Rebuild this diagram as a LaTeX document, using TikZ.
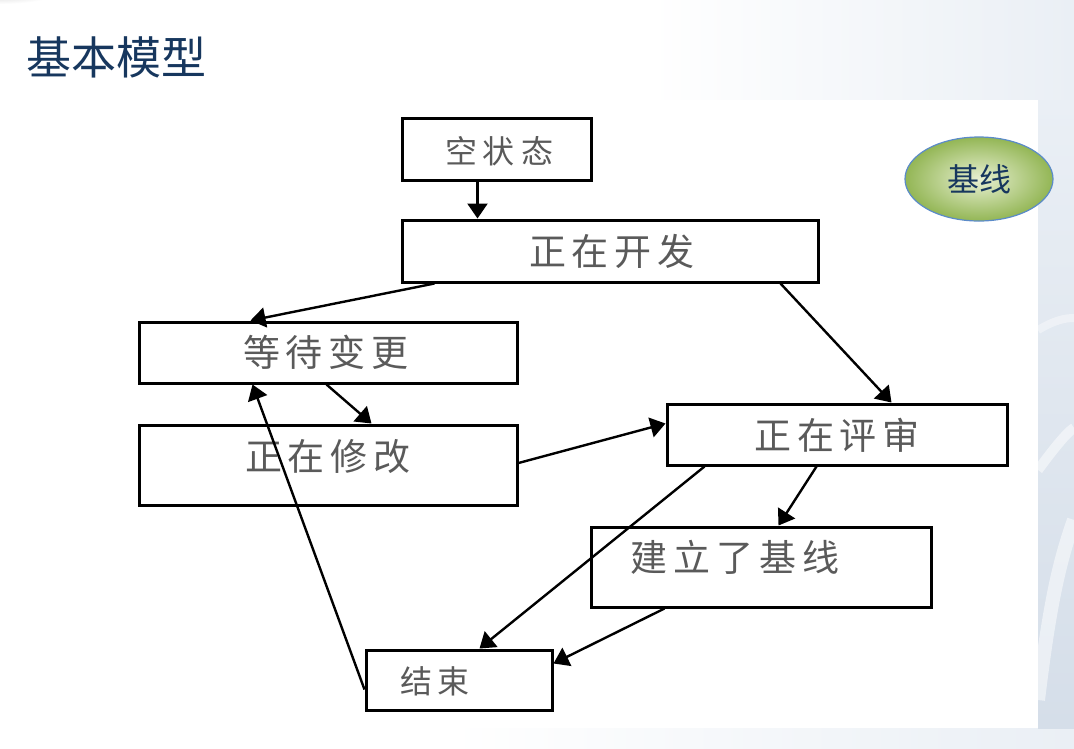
\documentclass[tikz,border=0pt]{standalone}
\usepackage{fontspec}
\newfontfamily\cjk{Noto Sans CJK SC}
\usetikzlibrary{arrows.meta,shapes.geometric,calc}
\definecolor{titleblue}{HTML}{17375E}
\definecolor{boxtext}{HTML}{5A5A5A}
\definecolor{ellborder}{HTML}{5B8BC9}
\definecolor{ellouter}{HTML}{93B655}
\definecolor{ellinner}{HTML}{E8F0D2}
\definecolor{pale}{HTML}{EAEFF5}
\definecolor{pale2}{HTML}{D5DEE9}
\newcommand{\gap}{\hskip 6pt}
\begin{document}
\begin{tikzpicture}[x=1pt,y=-1pt,
  box/.style={draw=black,line width=3pt,fill=white,rectangle,inner sep=0pt},
  lbl/.style={font=\cjk\fontsize{37}{37}\selectfont,text=boxtext,inner sep=0pt},
  lblsmall/.style={font=\cjk\fontsize{32}{32}\selectfont,text=boxtext,inner sep=0pt},
  arr/.style={line width=2.4pt,-{Triangle[length=15pt,width=20pt]}}]
\useasboundingbox (0,0) rectangle (1074,748);
% slide background
\fill[white] (0,0) rectangle (1074,748);
\shade[left color=white,right color=pale] (650,0) rectangle (1074,100);
\shade[left color=white,right color=pale] (450,728) rectangle (1074,748);
\shade[top color=pale,bottom color=pale2] (1038,100) rectangle (1074,728);
\draw[white,line width=10pt,opacity=0.5] (1038,470) .. controls (1060,440) and (1070,430) .. (1074,428);
\draw[white,line width=14pt,opacity=0.5] (1038,700) .. controls (1050,600) and (1060,560) .. (1074,520);
\draw[white,line width=8pt,opacity=0.4] (1038,330) .. controls (1055,320) and (1065,318) .. (1074,318);
\shade[inner color=gray!40,outer color=white] (0,-10) ellipse (60 and 14);
% white image area
\fill[white] (130,100) rectangle (1038,728);
% title
\node[font=\cjk\fontsize{45}{45}\selectfont,text=titleblue,anchor=west,inner sep=0pt] (title) at (26,57) {基本模型};
% baseline ellipse
\node[ellipse,draw=ellborder,line width=1.2pt,inner color=ellinner,outer color=ellouter,
  minimum width=148,minimum height=84,inner sep=0pt,font=\cjk\fontsize{32}{32}\selectfont,text=titleblue] (base) at (979,179) {基线};
% boxes
\node[box,minimum width=189,minimum height=62] (b1) at (496.5,149) {};
\node[box,minimum width=416,minimum height=62] (b2) at (610,251) {};
\node[box,minimum width=378,minimum height=61] (b3) at (328,352.5) {};
\node[box,minimum width=378,minimum height=80] (b4) at (328,465) {};
\node[box,minimum width=340,minimum height=61] (b5) at (837,434.5) {};
\node[box,minimum width=340,minimum height=80] (b6) at (761,567) {};
\node[box,minimum width=186,minimum height=60] (b7) at (459,680) {};
% labels
\node[lblsmall] (t1) at (499,151) {空\gap 状\gap 态};
\node[lbl] (t2) at (612,251) {正\gap 在\gap 开\gap 发};
\node[lbl] (t3) at (326,352) {等\gap 待\gap 变\gap 更};
\node[lbl] (t4) at (328,456) {正\gap 在\gap 修\gap 改};
\node[lbl] (t5) at (837,435) {正\gap 在\gap 评\gap 审};
\node[lbl] (t6) at (735,557) {建\gap 立\gap 了\gap 基\gap 线};
\node[lblsmall] (t7) at (435,681) {结\gap 束};
% connectors
\draw[arr] ([xshift=77pt]b1.south west) -- ([xshift=77pt]b2.north west);
\draw[arr] ([xshift=34pt]b2.south west) -- ([xshift=113pt]b3.north west);
\draw[arr] ([xshift=380pt]b2.south west) -- ([xshift=226pt]b5.north west);
\draw[arr] ([xshift=189pt]b3.south west) -- ([xshift=234pt]b4.north west);
\draw[arr] ([yshift=2pt]b4.east) -- ([yshift=-21pt]b5.north west);
\draw[arr] ([xshift=151pt]b5.south west) -- ([xshift=189pt]b6.north west);
\draw[arr] ([xshift=39pt]b5.south west) -- ([xshift=115pt]b7.north west);
\draw[arr] ([xshift=75pt]b6.south west) -- ([yshift=-15pt]b7.north east);
\draw[arr] ([yshift=22pt]b7.south west) -- ([xshift=115pt]b3.south west);
\end{tikzpicture}
\end{document}
